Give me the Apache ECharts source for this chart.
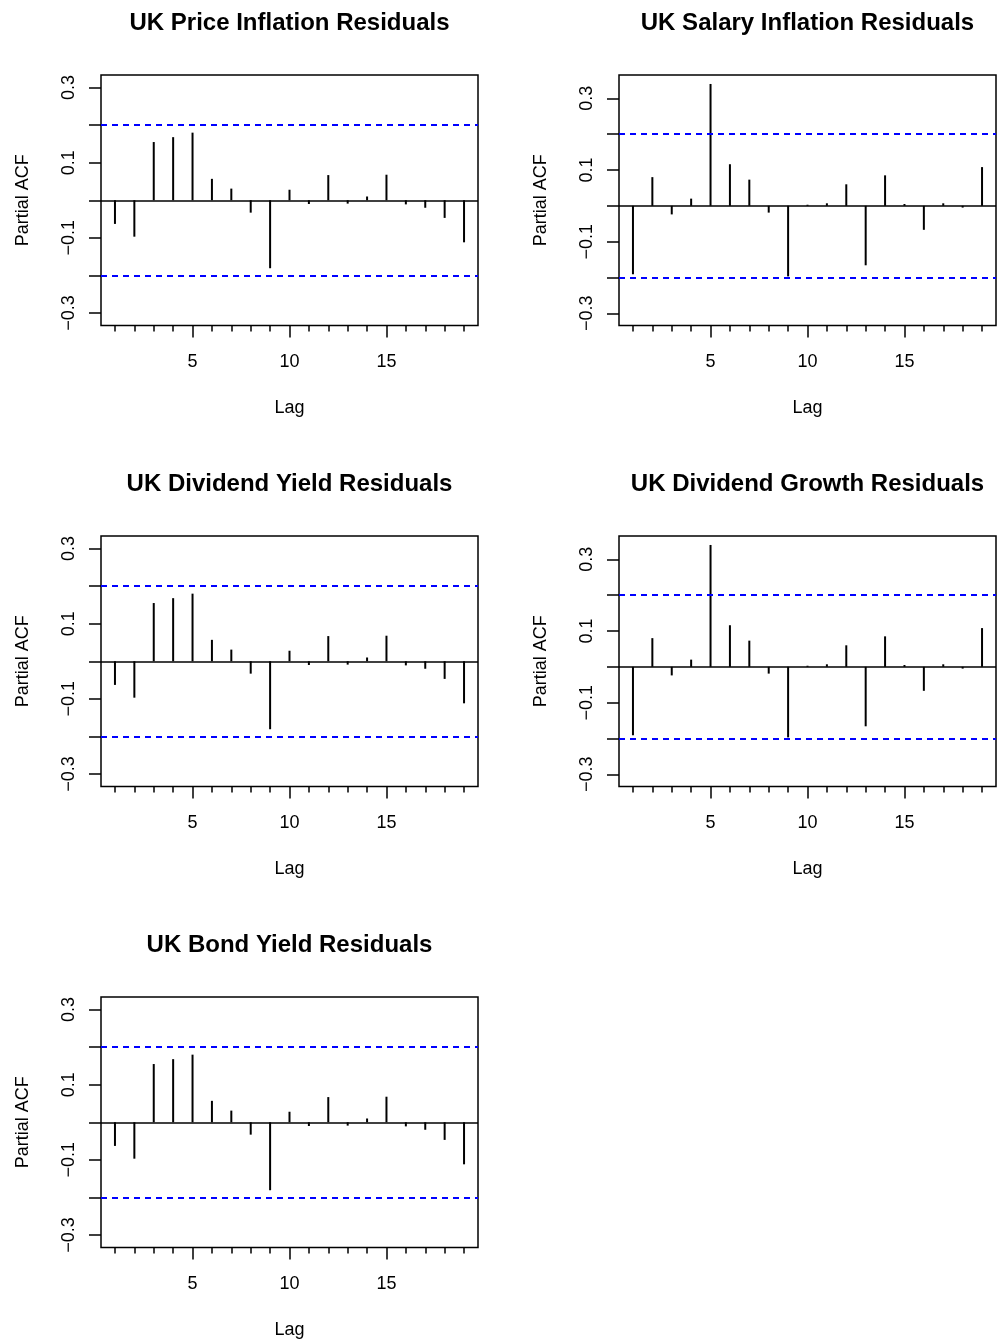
<!DOCTYPE html>
<html>
<head>
<meta charset="utf-8">
<script src="https://cdn.jsdelivr.net/npm/echarts@6/dist/echarts.min.js"></script>
<style>
html,body{margin:0;padding:0;background:#fff;}
#c{width:999px;height:1342px;}
</style>
</head>
<body>
<div id="c"></div>
<script>
// ---- data ----
const lags = [1,2,3,4,5,6,7,8,9,10,11,12,13,14,15,16,17,18,19];
const priceInflation  = [-0.063,-0.097,0.155,0.168,0.180,0.057,0.031,-0.033,-0.181,0.028,-0.010,0.067,-0.009,0.010,0.068,-0.011,-0.020,-0.047,-0.112];
const salaryInflation = [-0.191,0.080,-0.024,0.020,0.340,0.116,0.073,-0.019,-0.197,0.003,0.007,0.060,-0.166,0.085,0.005,-0.067,0.007,-0.005,0.108];
const dividendYield   = [-0.063,-0.097,0.155,0.168,0.180,0.057,0.031,-0.033,-0.181,0.028,-0.010,0.067,-0.009,0.010,0.068,-0.011,-0.020,-0.047,-0.112];
const dividendGrowth  = [-0.191,0.080,-0.024,0.020,0.340,0.116,0.073,-0.019,-0.197,0.003,0.007,0.060,-0.166,0.085,0.005,-0.067,0.007,-0.005,0.108];
const bondYield       = [-0.063,-0.097,0.155,0.168,0.180,0.057,0.031,-0.033,-0.181,0.028,-0.010,0.067,-0.009,0.010,0.068,-0.011,-0.020,-0.047,-0.112];
const panelTitles = ['UK Price Inflation Residuals','UK Salary Inflation Residuals','UK Dividend Yield Residuals','UK Dividend Growth Residuals','UK Bond Yield Residuals'];
const panelValues = [priceInflation, salaryInflation, dividendYield, dividendGrowth, bondYield];
const yMinValues = [-0.3335,-0.334,-0.3335,-0.334,-0.3335];
const yMaxValues = [0.3335,0.365,0.3335,0.365,0.3335];
const xMin = 0.28, xMax = 19.72;
const xMajorTicks = [5,10,15];
const yTickValues = [-0.3,-0.2,-0.1,0,0.1,0.2,0.3];
const yLabelValues = [-0.3,-0.1,0.1,0.3];
const confLimit = 0.201;
const xAxisName = 'Lag';
const yAxisName = 'Partial ACF';

// ---- layout ----
const panelLeft = [101,619,101,619,101];
const panelTop = [75,75,536,536,997];
const panelW = 377, panelH = 250.5;
const FONT = "'Liberation Sans', Arial, Helvetica, sans-serif";

const chart = echarts.init(document.getElementById('c'), null, {renderer:'canvas'});

const grids = [], xAxes = [], yAxes = [], series = [], graphics = [];
panelValues.forEach((vals, i) => {
  grids.push({left: panelLeft[i], top: panelTop[i], width: panelW, height: panelH,
    show: true, borderColor: '#000', borderWidth: 1.5, backgroundColor: 'transparent', containLabel: false});
  // major x axis
  xAxes.push({type: 'value', gridIndex: i, min: xMin, max: xMax, position: 'bottom',
    axisLine: {show: false, onZero: false}, splitLine: {show: false},
    axisTick: {show: true, length: 12, customValues: xMajorTicks, lineStyle: {color: '#000', width: 1.5}},
    axisLabel: {show: true, customValues: xMajorTicks, margin: 28, color: '#000', fontSize: 18, fontFamily: FONT},
    name: xAxisName, nameLocation: 'middle', nameGap: 74,
    nameTextStyle: {color: '#000', fontSize: 18, fontFamily: FONT}
  });
  // minor x axis (every lag)
  xAxes.push({type: 'value', gridIndex: i, min: xMin, max: xMax, position: 'bottom', offset: 0,
    axisLine: {show: false, onZero: false}, splitLine: {show: false},
    axisTick: {show: true, length: 6, customValues: lags, lineStyle: {color: '#000', width: 1.5}},
    axisLabel: {show: false}
  });
  yAxes.push({type: 'value', gridIndex: i, min: yMinValues[i], max: yMaxValues[i],
    axisLine: {show: false, onZero: false}, splitLine: {show: false},
    axisTick: {show: true, length: 12, customValues: yTickValues, lineStyle: {color: '#000', width: 1.5}},
    axisLabel: {show: true, customValues: yLabelValues, rotate: 90, margin: 23, color: '#000', fontSize: 18, fontFamily: FONT,
      formatter: v => (v < 0 ? '\u2212' : '') + Math.abs(v).toFixed(1)},
    name: yAxisName, nameLocation: 'middle', nameGap: 69, nameRotate: 90,
    nameTextStyle: {color: '#000', fontSize: 18, fontFamily: FONT}
  });
  series.push({type: 'bar', xAxisIndex: 2 * i, yAxisIndex: i, barWidth: 2, silent: true,
    itemStyle: {color: '#000'},
    data: lags.map((l, j) => [l, vals[j]]),
    markLine: {silent: true, symbol: 'none', label: {show: false}, animation: false,
      data: [
        {yAxis: 0, lineStyle: {color: '#000', type: 'solid', width: 1.5}},
        {yAxis: confLimit, lineStyle: {color: '#0000FF', type: [6, 5], width: 1.8}},
        {yAxis: -confLimit, lineStyle: {color: '#0000FF', type: [6, 5], width: 1.8}}
      ]}
  });
  graphics.push({type: 'text', x: panelLeft[i] + panelW / 2, y: panelTop[i] - 52, silent: true,
    style: {text: panelTitles[i], textAlign: 'center', textVerticalAlign: 'middle',
      font: "bold 24px " + FONT, fill: '#000'}});
});

chart.setOption({
  animation: false,
  backgroundColor: '#fff',
  grid: grids,
  xAxis: xAxes,
  yAxis: yAxes,
  series: series,
  graphic: graphics
});
</script>
</body>
</html>
